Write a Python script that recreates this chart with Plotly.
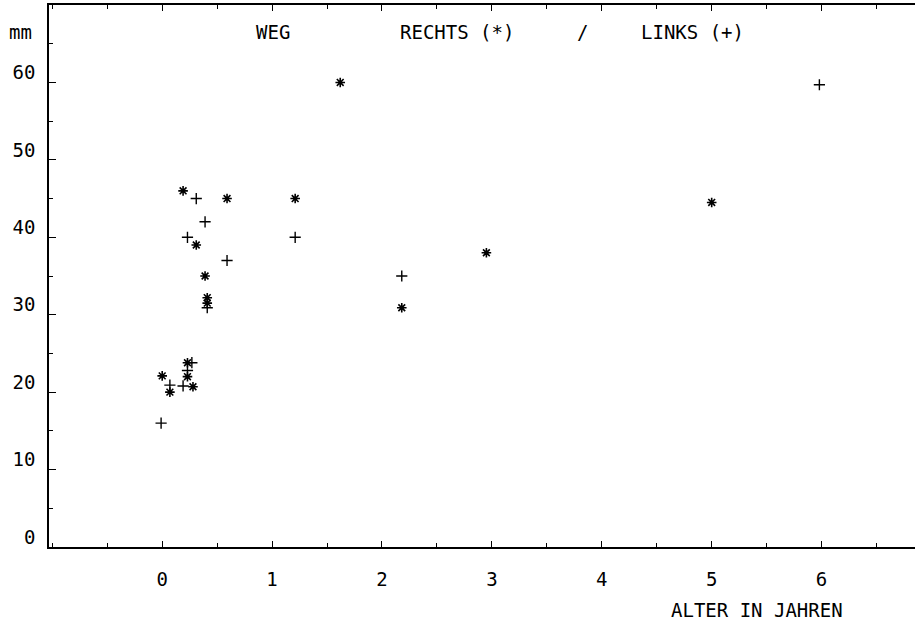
import plotly.graph_objects as go

# Data (Alter in Jahren, Weg in mm)
rechts_x = [0.00, 0.07, 0.23, 0.23, 0.28, 0.19, 0.31, 0.39, 0.41, 0.41, 0.59, 1.21, 1.62, 2.18, 2.95, 5.00]
rechts_y = [22.1, 20.0, 23.8, 22.0, 20.7, 46.0, 39.0, 35.0, 32.2, 31.5, 45.0, 45.0, 60.0, 30.9, 38.0, 44.5]

links_x = [-0.01, 0.07, 0.19, 0.23, 0.27, 0.23, 0.31, 0.39, 0.41, 0.59, 1.21, 2.18, 5.98]
links_y = [16.0, 20.9, 20.8, 22.8, 23.8, 40.0, 45.0, 42.0, 30.9, 37.0, 40.0, 35.0, 59.7]

x_tickvals = [0, 1, 2, 3, 4, 5, 6]
x_ticktext = ["0", "1", "2", "3", "4", "5", "6"]
y_tickvals = [0, 10, 20, 30, 40, 50, 60]
y_ticktext = ["0", "10", "20", "30", "40", "50", "60"]

FONT = "DejaVu Sans Mono"
W, H = 915, 632
ML, MR, MT, MB = 49, 0, 5, 85

fig = go.Figure()
fig.add_trace(go.Scatter(
    x=rechts_x, y=rechts_y, mode="markers", name="RECHTS (*)",
    marker=dict(symbol="asterisk-open", size=8, color="black",
                line=dict(color="black", width=1.6)),
    showlegend=False))
fig.add_trace(go.Scatter(
    x=links_x, y=links_y, mode="markers", name="LINKS (+)",
    marker=dict(symbol="cross-thin-open", size=8, color="black",
                line=dict(color="black", width=1.4)),
    showlegend=False))

fig.update_layout(
    width=W, height=H,
    margin=dict(l=ML, r=MR, t=MT, b=MB),
    paper_bgcolor="white", plot_bgcolor="white",
    font=dict(family=FONT, size=19, color="black"),
    xaxis=dict(range=[-1.03, 6.85], showline=True, linecolor="black", linewidth=1.5,
               mirror="ticks", ticks="inside", ticklen=6, tickwidth=1.2, tickcolor="black",
               tickvals=x_tickvals, ticktext=x_ticktext, ticklabelstandoff=14,
               minor=dict(ticks="inside", dtick=0.5, tick0=0, ticklen=4, tickcolor="black"),
               showgrid=False, zeroline=False, automargin=False,
               tickfont=dict(family=FONT, size=19)),
    yaxis=dict(range=[0, 70], showline=True, linecolor="black", linewidth=1.5,
               ticks="inside", ticklen=7, tickwidth=1.2, tickcolor="black",
               tickvals=y_tickvals, ticktext=y_ticktext, ticklabelstandoff=8,
               ticklabelshift=-10,
               minor=dict(ticks="inside", dtick=5, tick0=0, ticklen=4, tickcolor="black"),
               showgrid=False, zeroline=False, automargin=False,
               tickfont=dict(family=FONT, size=19)),
)

ann = dict(xref="paper", yref="paper", showarrow=False, font=dict(family=FONT, size=19, color="black"))
def px_x(px):
    return (px - ML) / (W - ML - MR)
def px_y(py):
    return (H - MB - py) / (H - MB - MT)

fig.add_annotation(text="mm", x=px_x(20), y=px_y(32), xanchor="center", yanchor="middle", **ann)
fig.add_annotation(text="WEG", x=px_x(273), y=px_y(32), xanchor="center", yanchor="middle", **ann)
fig.add_annotation(text="RECHTS (*)", x=px_x(457), y=px_y(32), xanchor="center", yanchor="middle", **ann)
fig.add_annotation(text="/", x=px_x(582), y=px_y(32), xanchor="center", yanchor="middle", **ann)
fig.add_annotation(text="LINKS (+)", x=px_x(692), y=px_y(32), xanchor="center", yanchor="middle", **ann)
fig.add_annotation(text="ALTER IN JAHREN", x=px_x(757), y=px_y(610), xanchor="center", yanchor="middle", **ann)

fig.write_html("out.html", config={"displayModeBar": False},
               post_script="document.body.style.margin='0';document.body.style.overflow='hidden';")
